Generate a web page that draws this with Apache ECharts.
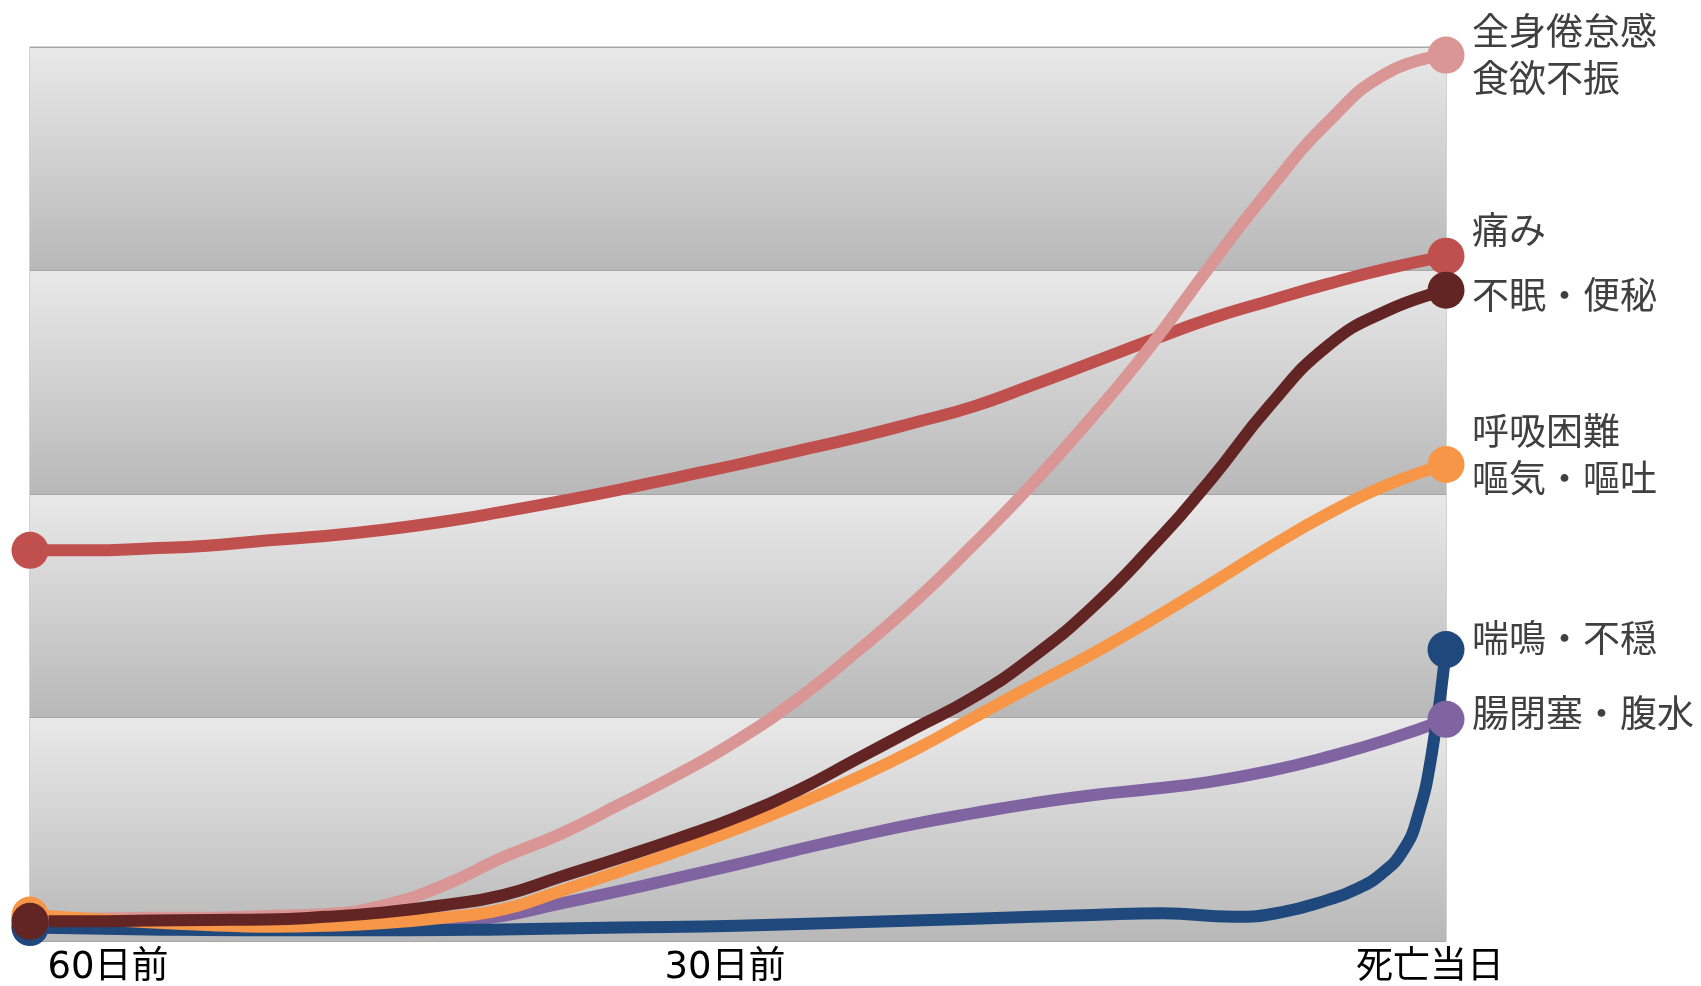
<!DOCTYPE html>
<html>
<head>
<meta charset="utf-8">
<script src="https://cdn.jsdelivr.net/npm/echarts@6/dist/echarts.min.js"></script>
<style>
  html, body { margin: 0; padding: 0; background: #ffffff; }
  #chart { width: 1701px; height: 986px; }
</style>
</head>
<body>
<div id="chart"></div>
<script>
// Days elapsed from "60日前" (0) to "死亡当日" (60)
const days = [0, 2.5, 5, 7.5, 10, 12.5, 15, 17.5, 20, 22.5, 25, 27.5, 30,
              32.5, 35, 37.5, 40, 42.5, 45, 47.5, 50, 52.5, 55, 57.5, 60];
const tickDays = [0, 30, 60];
const tickLabels = ['60日前', '30日前', '死亡当日'];

// Symptom frequency (%) by day
const fatigue  = [2.5, 2.5, 2.6, 2.6, 2.8, 3.0, 4.0, 6.2, 9.3, 12.0, 15.3, 18.7, 22.5,
                  27.0, 32.3, 38.0, 44.4, 51.2, 58.6, 66.6, 75.5, 84.0, 91.6, 97.1, 99.1];
const pain     = [43.7, 43.7, 43.9, 44.2, 44.8, 45.3, 46.0, 46.9, 48.0, 49.2, 50.5, 51.9, 53.3,
                  54.8, 56.3, 58.0, 59.8, 62.2, 64.7, 67.2, 69.6, 71.6, 73.5, 75.2, 76.6];
const insomnia = [2.2, 2.2, 2.3, 2.35, 2.4, 2.7, 3.2, 4.0, 5.1, 7.2, 9.3, 11.5, 13.9,
                  16.8, 20.3, 23.8, 27.3, 31.8, 37.3, 44.0, 51.5, 59.8, 66.6, 70.5, 72.8];
const dyspnea  = [2.9, 2.5, 2.1, 1.8, 1.6, 1.7, 2.0, 2.6, 3.5, 5.6, 7.8, 10.1, 12.6,
                  15.3, 18.2, 21.4, 25.0, 28.6, 32.1, 35.9, 39.9, 44.0, 47.8, 51.0, 53.3];
const ileus    = [1.6, 1.5, 1.5, 1.5, 1.6, 1.7, 1.8, 2.1, 2.8, 4.2, 5.6, 7.1, 8.6,
                  10.2, 11.7, 13.1, 14.3, 15.4, 16.3, 17.0, 17.8, 19.0, 20.6, 22.5, 24.8];
// wheezing is sampled more densely near the end where it climbs steeply
const wheezeDays = [0, 5, 10, 15, 20, 25, 30, 35, 40, 45, 48, 51, 53, 55,
                    56.2, 57.3, 58.2, 58.8, 59.4, 60];
const wheeze     = [1.5, 1.3, 1.2, 1.2, 1.3, 1.5, 1.7, 2.1, 2.5, 2.9, 3.1, 2.7, 3.2, 4.6,
                    5.8, 7.6, 10.2, 13.9, 21.0, 32.6];

const names = {
  fatigue: '全身倦怠感\n食欲不振',
  pain: '痛み',
  insomnia: '不眠・便秘',
  dyspnea: '呼吸困難\n嘔気・嘔吐',
  wheeze: '喘鳴・不穏',
  ileus: '腸閉塞・腹水'
};

const bandFill = {
  type: 'linear', x: 0, y: 0, x2: 0, y2: 1,
  colorStops: [
    { offset: 0, color: '#e9e9e9' },
    { offset: 1, color: '#b8b8b8' }
  ]
};

function makeSeries(name, xs, ys, color, labelDy) {
  const data = xs.map((d, i) => [d, ys[i]]);
  const last = data.length - 1;
  return {
    type: 'line',
    name: name,
    data: data,
    smooth: 0.5,
    clip: false,
    symbol: 'circle',
    showSymbol: true,
    symbolSize: (v, p) => (p.dataIndex === 0 || p.dataIndex === last) ? 37 : 0,
    lineStyle: { color: color, width: 12, cap: 'round', join: 'round' },
    itemStyle: { color: color },
    emphasis: { disabled: true },
    endLabel: {
      show: true,
      formatter: () => name,
      distance: 26,
      offset: [0, labelDy],
      color: '#404040',
      fontSize: 37,
      lineHeight: 47,
      fontFamily: '"Noto Sans CJK JP", sans-serif'
    }
  };
}

const chart = echarts.init(document.getElementById('chart'), null, { renderer: 'canvas' });

const tickFont = '"DejaVu Sans", "Noto Sans CJK JP", sans-serif';

chart.setOption({
  animation: false,
  backgroundColor: '#ffffff',
  grid: {
    left: 30, right: 255, top: 47, bottom: 45,
    show: true,
    borderColor: '#a6a6a6',
    borderWidth: 1,
    backgroundColor: 'transparent',
    outerBoundsMode: 'none'
  },
  xAxis: {
    type: 'value',
    min: 0, max: 60, interval: 30,
    axisLine: { show: false },
    axisTick: { show: false },
    splitLine: { show: false },
    axisLabel: {
      show: true,
      showMinLabel: true,
      showMaxLabel: true,
      margin: 9,
      formatter: (v) => {
        const i = tickDays.indexOf(v);
        if (i < 0) return '';
        return '{t' + i + '|' + tickLabels[i] + '}';
      },
      rich: {
        t0: { padding: [0, 0, 0, 156], fontSize: 37, color: '#000000', fontFamily: tickFont },
        t1: { padding: [0, 26, 0, 0], fontSize: 37, color: '#000000', fontFamily: tickFont },
        t2: { padding: [0, 32, 0, 0], fontSize: 37, color: '#000000', fontFamily: tickFont }
      }
    }
  },
  yAxis: {
    type: 'value',
    min: 0, max: 100, interval: 25,
    axisLine: { show: false },
    axisTick: { show: false },
    axisLabel: { show: false },
    splitLine: { show: true, lineStyle: { color: '#a6a6a6', width: 1 } },
    splitArea: { show: true, areaStyle: { color: [bandFill, bandFill] } }
  },
  series: [
    makeSeries(names.pain, days, pain, '#c0504d', -26),
    makeSeries(names.fatigue, days, fatigue, '#d99694', -1),
    makeSeries(names.ileus, days, ileus, '#8064a2', -6),
    makeSeries(names.wheeze, wheezeDays, wheeze, '#1f497d', -12),
    makeSeries(names.dyspnea, days, dyspnea, '#f79646', -10),
    makeSeries(names.insomnia, days, insomnia, '#632523', 5)
  ]
});
</script>
</body>
</html>
